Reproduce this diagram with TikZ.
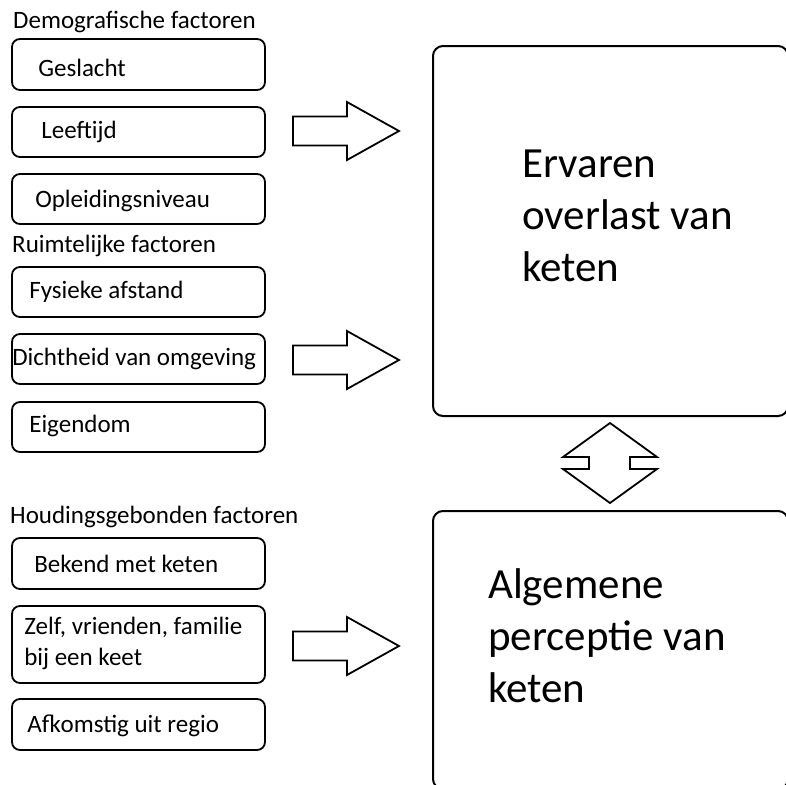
\documentclass[tikz,border=0pt]{standalone}
\usepackage{fontspec}
\setmainfont{Carlito}
\usetikzlibrary{calc}

\tikzset{
    factor/.style={draw, line width=1.8pt, rounded corners=8pt,
                   minimum width=253pt, inner sep=0pt},
    groot/.style={draw, line width=2pt, rounded corners=10pt,
                  minimum width=355pt, inner sep=0pt},
    tekst/.style={anchor=base west, inner sep=0pt,
                  font=\fontsize{25}{31}\selectfont},
    grotetekst/.style={anchor=base west, inner sep=0pt, align=left,
                       font=\fontsize{43}{52}\selectfont},
    pijllijn/.style={draw, line width=1.8pt, line join=miter, fill=white},
    blokpijl/.pic={
        \path[pijllijn] (0,-14.5) -- (54,-14.5) -- (54,-29) -- (106,0)
            -- (54,29) -- (54,14.5) -- (0,14.5) -- cycle;
    }
}

\begin{document}
\begin{tikzpicture}[x=1pt,y=-1pt]
    \useasboundingbox (0,0) rectangle (785,785);

    % Demografische factoren
    \node[tekst] (demo) at (13,28) {Demografische factoren};
    \node[factor, minimum height=51pt] (geslacht) at (138.5,64.5) {};
    \node[tekst] at ($(geslacht.west)+(27,12)$) {Geslacht};
    \node[factor, minimum height=50pt] (leeftijd) at (138.5,132) {};
    \node[tekst] at ($(leeftijd.west)+(30,6)$) {Leeftijd};
    \node[factor, minimum height=50pt] (opleiding) at (138.5,199) {};
    \node[tekst] at ($(opleiding.west)+(24,8)$) {Opleidingsniveau};

    % Ruimtelijke factoren
    \node[tekst] (ruimte) at (12,252) {Ruimtelijke factoren};
    \node[factor, minimum height=50pt] (afstand) at (138.5,292) {};
    \node[tekst] at ($(afstand.west)+(18,6)$) {Fysieke afstand};
    \node[factor, minimum height=50pt] (dichtheid) at (138.5,359) {};
    \node[tekst] at ($(dichtheid.west)+(1,6)$) {Dichtheid van omgeving};
    \node[factor, minimum height=50pt] (eigendom) at (138.5,427) {};
    \node[tekst] at ($(eigendom.west)+(18,5)$) {Eigendom};

    % Houdingsgebonden factoren
    \node[tekst] (houding) at (10,523) {Houdingsgebonden factoren};
    \node[factor, minimum height=51pt] (bekend) at (138.5,563.5) {};
    \node[tekst] at ($(bekend.west)+(23,9)$) {Bekend met keten};
    \node[factor, minimum height=77pt] (zelf) at (138.5,644.5) {};
    \node[tekst, align=left] at ($(zelf.west)+(13,20.5)$)
        {Zelf, vrienden, familie\\bij een keet};
    \node[factor, minimum height=51pt] (regio) at (138.5,724.5) {};
    \node[tekst] at ($(regio.west)+(16,8)$) {Afkomstig uit regio};

    % Uitkomsten (base = basislijn van de laatste regel)
    \node[groot, minimum height=370pt] (overlast) at (610.5,231) {};
    \node[grotetekst] at (522,281) {Ervaren\\overlast van\\keten};
    \node[groot, minimum height=278pt] (perceptie) at (610.5,650) {};
    \node[grotetekst] at (488,702) {Algemene\\perceptie van\\keten};

    % Blokpijlen naar de uitkomsten
    \pic at (293,131) {blokpijl};
    \pic at (293,360) {blokpijl};
    \pic at (293,646) {blokpijl};

    % Dubbele pijl tussen de uitkomsten
    \path[pijllijn] (610,423) -- (563,457) -- (589,457) -- (589,469)
        -- (563,469) -- (610,503) -- (657,469) -- (630,469)
        -- (630,457) -- (657,457) -- cycle;
\end{tikzpicture}
\end{document}
